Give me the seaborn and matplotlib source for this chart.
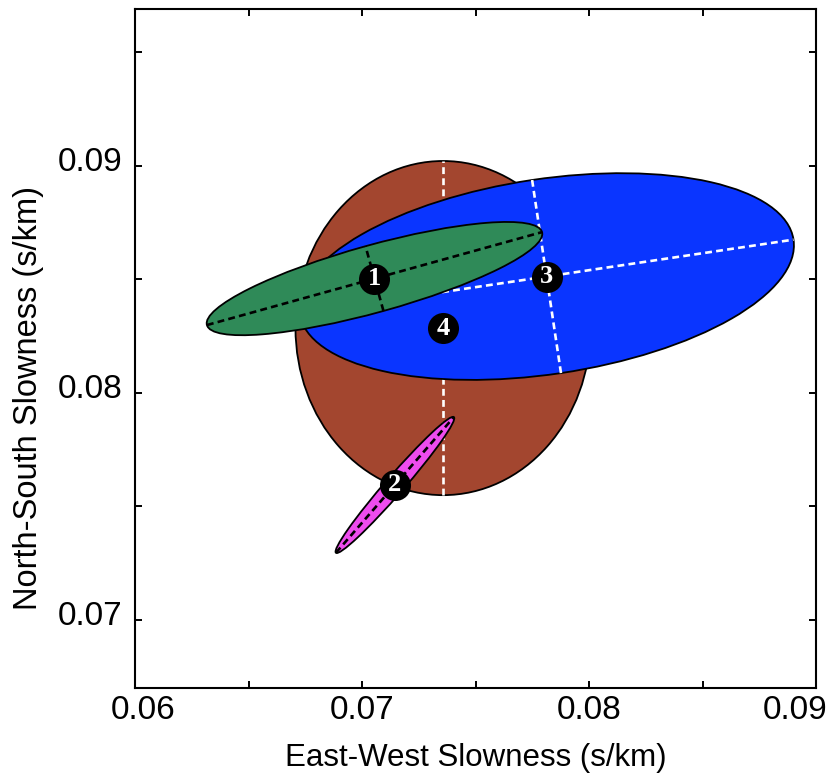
import numpy as np
import matplotlib
matplotlib.use("Agg")
import matplotlib.pyplot as plt
import matplotlib.transforms as mtrans
import seaborn as sns
import pandas as pd
from matplotlib.patches import Ellipse

# ---- data ----
labels = ["4", "3", "1", "2"]
center_x = [0.07357, 0.07813, 0.07055, 0.07145]
center_y = [0.08286, 0.08513, 0.08504, 0.07595]
semi_major = [0.00736, 0.01100, 0.00766, 0.00396]
semi_minor = [0.00650, 0.00430, 0.00148, 0.00040]
angle_deg = [90.0, 8.5, 15.5, 49.0]
fill_colors = ["#A3462F", "#0A35FF", "#2F8A58", "#EE4CEE"]
axis_colors = ["white", "white", "black", "black"]

x_ticks = [0.06, 0.065, 0.07, 0.075, 0.08, 0.085, 0.09]
y_ticks = [0.07, 0.075, 0.08, 0.085, 0.09, 0.095]
x_ticklabels = ["0.06", "", "0.07", "", "0.08", "", "0.09"]
y_ticklabels = ["0.07", "", "0.08", "", "0.09", ""]

df = pd.DataFrame({"label": labels, "x": center_x, "y": center_y})

sns.set_style("ticks")
plt.rcParams["font.family"] = ["Liberation Sans", "DejaVu Sans"]
plt.rcParams["text.color"] = "black"
plt.rcParams["axes.labelcolor"] = "black"
plt.rcParams["xtick.color"] = "black"
plt.rcParams["ytick.color"] = "black"

W, H = 832, 773
fig = plt.figure(figsize=(W / 100, H / 100), dpi=100)
ax = fig.add_axes([135 / W, 1 - 688 / H, 681 / W, 679 / H])

for i in range(len(labels)):
    z = 2 + 2 * i
    th = np.deg2rad(angle_deg[i])
    e = Ellipse((center_x[i], center_y[i]), 2 * semi_major[i], 2 * semi_minor[i],
                angle=angle_deg[i], facecolor=fill_colors[i], edgecolor="black",
                linewidth=1.3, zorder=z)
    ax.add_patch(e)
    a, b = semi_major[i], semi_minor[i]
    cx, cy = center_x[i], center_y[i]
    ax.plot([cx - a * np.cos(th), cx + a * np.cos(th)],
            [cy - a * np.sin(th), cy + a * np.sin(th)],
            color=axis_colors[i], lw=1.9, linestyle=(0, (2.6, 1.6)), zorder=z + 0.5)
    ax.plot([cx + b * np.sin(th), cx - b * np.sin(th)],
            [cy - b * np.cos(th), cy + b * np.cos(th)],
            color=axis_colors[i], lw=1.9, linestyle=(0, (2.6, 1.6)), zorder=z + 0.5)

sns.scatterplot(data=df, x="x", y="y", s=500, color="black", edgecolor="black",
                linewidth=0, ax=ax, zorder=20, legend=False)
for lab, x, y in zip(labels, center_x, center_y):
    ax.text(x, y, lab, color="white", ha="center", va="center", fontsize=19,
            fontweight="bold", family=["Liberation Serif", "DejaVu Serif"], zorder=21)

ax.set_xlim(0.06, 0.09)
ax.set_ylim(0.067004, 0.096916)
ax.set_xticks(x_ticks)
ax.set_xticklabels(x_ticklabels)
ax.set_yticks(y_ticks)
ax.set_yticklabels(y_ticklabels)
ax.tick_params(direction="in", length=5, width=1.4, top=True, right=True,
               labelsize=24)
ax.tick_params(axis="x", pad=5)
ax.tick_params(axis="y", pad=9)
for s in ax.spines.values():
    s.set_linewidth(1.5)
    s.set_color("black")
    s.set_visible(True)

# fine shifts of tick labels (in pixels) to match the reference placement
def shift(lbl, dx, dy):
    lbl.set_transform(lbl.get_transform() + mtrans.ScaledTranslation(dx / 100, dy / 100, fig.dpi_scale_trans))

xl = ax.get_xticklabels()
shift(xl[0], 8.5, 0)
shift(xl[-1], -20.5, 0)
for lbl in ax.get_yticklabels():
    shift(lbl, 0, 7)

ax.set_xlabel("East-West Slowness (s/km)", fontsize=22.5, va="center")
ax.xaxis.set_label_coords(0.5, (688 - 758) / 679)
ax.set_ylabel("North-South Slowness (s/km)", fontsize=23.5, va="center")
ax.yaxis.set_label_coords((29 - 135) / 681, (688 - 398.5) / 679)

fig.savefig("out.png", dpi=100)
